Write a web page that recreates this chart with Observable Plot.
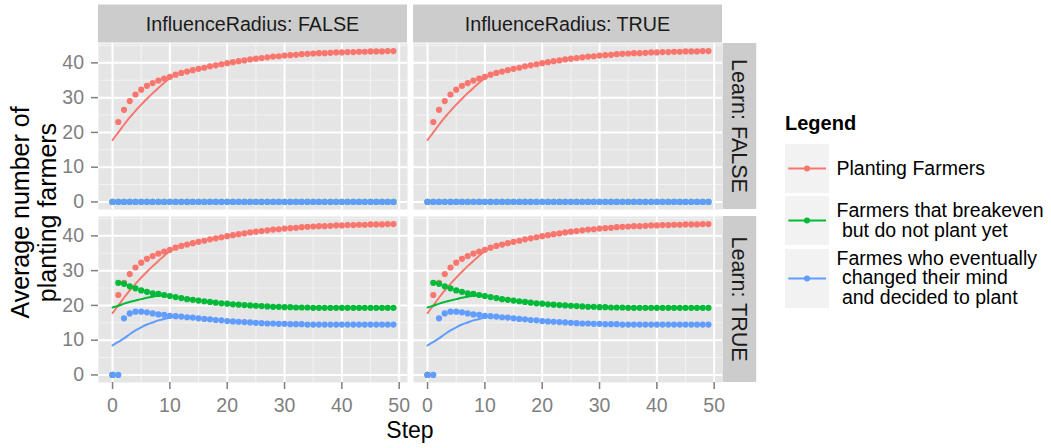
<!DOCTYPE html>
<html><head><meta charset="utf-8">
<script src="https://cdn.jsdelivr.net/npm/d3@7"></script>
<script src="https://cdn.jsdelivr.net/npm/@observablehq/plot@0.6"></script>
<style>
html,body{margin:0;padding:0;background:#fff;}
#wrap{position:relative;width:1051px;height:448px;overflow:hidden;font-family:"Liberation Sans",Arial,sans-serif;}
#chart{position:absolute;left:0;top:0;}
#legend{position:absolute;left:785px;top:111px;}
.ltitle{font-weight:bold;font-size:20px;line-height:24px;color:#000;margin-bottom:9px;}
.lrow{display:flex;align-items:center;margin-bottom:3.3px;}
.lkey{width:44px;background:#F2F2F2;flex:none;display:block;}
.llab{margin-left:7.5px;font-size:19.5px;line-height:19.6px;white-space:pre;color:#000;}
</style></head><body>
<div id="wrap"><div id="chart"></div><div id="legend"></div></div>
<script>
// ---------- data ----------
const steps = [0,1,2,3,4,5,6,7,8,9,10,11,12,13,14,15,16,17,18,19,20,21,22,23,24,25,26,27,28,29,30,31,32,33,34,35,36,37,38,39,40,41,42,43,44,45,46,47,48,49];
const radiusLevels = ["FALSE", "TRUE"];
const learnLevels = ["FALSE", "TRUE"];
const facetVarX = "InfluenceRadius";
const facetVarY = "Learn";
const seriesKeys = ["planting", "breakeven", "changed"];
const seriesLabels = ["Planting Farmers", "Farmers that breakeven\n but do not plant yet", "Farmes who eventually\n changed their mind\n and decided to plant"];
const seriesColors = ["#F8766D", "#00BA38", "#619CFF"];
const xTicks = [0, 10, 20, 30, 40, 50];
const xMinorTicks = [5, 15, 25, 35, 45];
const yTicks = [0, 10, 20, 30, 40];
const yMinorTicks = [5, 15, 25, 35, 45];
const xDomain = [-2.45, 51.45];
const yDomain = [-2.17, 45.57];
const xTitle = "Step";
const yTitleLines = ["Average number of", "planting farmers"];
const legendTitle = "Legend";

// points (steps 0..49)
const plantingPts = [0, 23.0, 26.5, 29.0, 30.9, 32.3, 33.4, 34.2, 34.9, 35.5, 36.0,
  36.6, 37.1, 37.5, 37.9, 38.3, 38.6, 39.0, 39.3, 39.6, 39.9,
  40.2, 40.5, 40.7, 41.0, 41.2, 41.4, 41.6, 41.8, 41.9, 42.1,
  42.2, 42.3, 42.5, 42.6, 42.7, 42.8, 42.8, 42.9, 43.0, 43.0,
  43.1, 43.1, 43.2, 43.2, 43.3, 43.3, 43.3, 43.4, 43.4];
const breakevenPtsLearn = [0, 26.5, 26.2, 25.5, 24.9, 24.3, 23.9, 23.5, 23.3, 23.0, 22.7,
  22.4, 22.1, 21.8, 21.6, 21.4, 21.2, 21.0, 20.8, 20.6, 20.5,
  20.3, 20.2, 20.1, 20.0, 19.9, 19.8, 19.7, 19.6, 19.6, 19.5,
  19.5, 19.4, 19.4, 19.4, 19.3, 19.3, 19.3, 19.3, 19.3, 19.3,
  19.3, 19.3, 19.3, 19.3, 19.3, 19.3, 19.3, 19.3, 19.3];
const changedPtsLearn = [0, 0, 16.3, 17.7, 18.2, 18.2, 18.0, 17.7, 17.4, 17.3, 17.0,
  16.9, 16.8, 16.6, 16.5, 16.3, 16.1, 16.0, 15.8, 15.7, 15.5,
  15.4, 15.3, 15.2, 15.1, 15.0, 14.9, 14.8, 14.8, 14.7, 14.7,
  14.6, 14.6, 14.6, 14.5, 14.5, 14.5, 14.5, 14.5, 14.5, 14.5,
  14.5, 14.5, 14.5, 14.5, 14.5, 14.5, 14.5, 14.5, 14.5];
const zeroPts = [0,0,0,0,0,0,0,0,0,0,0,0,0,0,0,0,0,0,0,0,0,0,0,0,0,0,0,0,0,0,0,0,0,0,0,0,0,0,0,0,0,0,0,0,0,0,0,0,0,0];

// smooth lines (from step 0)
const plantingLine = [17.8, 20.0, 22.2, 24.3, 26.2, 28.0, 29.7, 31.3, 32.8, 34.3, 35.6, 36.6];
const breakevenLine = [19.4, 19.9, 20.5, 21.0, 21.4, 21.8, 22.2, 22.5, 22.8, 22.9, 22.7];
const changedLine = [8.5, 9.5, 10.5, 11.7, 12.8, 13.7, 14.5, 15.1, 15.7, 16.1, 16.5, 16.8, 16.8];

// ---------- build tables ----------
const points = [];
const lines = [];
for (const r of radiusLevels) {
  for (const l of learnLevels) {
    const ptSets = l === "TRUE" ? [plantingPts, breakevenPtsLearn, changedPtsLearn] : [plantingPts, zeroPts, zeroPts];
    ptSets.forEach((vals, si) => vals.forEach((v, i) => points.push({radius: r, learn: l, series: seriesKeys[si], step: steps[i], value: v})));
    const lnSets = l === "TRUE" ? [plantingLine, breakevenLine, changedLine] : [plantingLine, null, null];
    lnSets.forEach((vals, si) => { if (vals) vals.forEach((v, i) => lines.push({radius: r, learn: l, series: seriesKeys[si], step: steps[i], value: v})); });
  }
}

// ---------- styles ----------
const FONT = "'Liberation Sans', Arial, sans-serif";
const PANEL = "#E5E5E5", STRIP = "#CCCCCC", MINOR = "#F2F2F2", AXIS = "#7F7F7F", STRIP_TEXT = "#1A1A1A";
const STRIP_H = 38, STRIP_W = 33.5;
const W = 770, H = 448, ML = 98, MR = 48, MT = 43, MB = 66;

const chart = Plot.plot({
  width: W,
  height: H,
  marginLeft: ML,
  marginRight: MR,
  marginTop: MT,
  marginBottom: MB,
  style: {fontFamily: FONT, background: "white", overflow: "visible"},
  fx: {domain: radiusLevels, paddingInner: 0.0206, paddingOuter: 0, axis: null},
  fy: {domain: learnLevels, paddingInner: 0.0433, paddingOuter: 0, axis: null},
  x: {domain: xDomain},
  y: {domain: yDomain},
  color: {domain: seriesKeys, range: seriesColors},
  marks: [
    Plot.frame({fill: PANEL, stroke: null}),
    Plot.ruleX(xMinorTicks, {stroke: MINOR, strokeWidth: 1.1}),
    Plot.ruleY(yMinorTicks, {stroke: MINOR, strokeWidth: 1.1}),
    Plot.ruleX(xTicks, {stroke: "white", strokeWidth: 2}),
    Plot.ruleY(yTicks, {stroke: "white", strokeWidth: 2}),
    Plot.line(lines, {x: "step", y: "value", z: "series", stroke: "series", fx: "radius", fy: "learn", strokeWidth: 2, curve: "monotone-x"}),
    Plot.dot(points, {x: "step", y: "value", fill: "series", fx: "radius", fy: "learn", r: 3.1, stroke: null}),
    Plot.axisX({ticks: xTicks, tickSize: 7, tickPadding: 9, fontSize: 19.5, color: AXIS, strokeWidth: 1.5, label: null}),
    Plot.axisY({ticks: yTicks, tickSize: 7, tickPadding: 7.5, fontSize: 19.5, color: AXIS, strokeWidth: 1.5, label: null})
  ]
});
document.getElementById("chart").appendChild(chart);

// ---------- facet strips and axis titles, positioned with the plot's facet scales ----------
(function decorate() {
  const fxS = chart.scale("fx"), fyS = chart.scale("fy");
  const bx = fxS.bandwidth, by = fyS.bandwidth;
  const g = d3.select(chart).append("g").attr("font-family", FONT);
  const rightEdge = fxS.apply(radiusLevels[radiusLevels.length - 1]) + bx;
  const top = fyS.apply(learnLevels[0]);
  for (const k of radiusLevels) {
    const x0 = fxS.apply(k);
    g.append("rect").attr("x", x0).attr("y", top - STRIP_H - 0.5).attr("width", bx).attr("height", STRIP_H).attr("fill", STRIP);
    g.append("text").attr("x", x0 + bx / 2).attr("y", top - STRIP_H / 2 - 0.5).attr("dy", "0.36em")
      .attr("text-anchor", "middle").attr("font-size", 19.7).attr("fill", STRIP_TEXT).text(`${facetVarX}: ${k}`);
  }
  for (const k of learnLevels) {
    const y0 = fyS.apply(k);
    g.append("rect").attr("x", rightEdge + 0.7).attr("y", y0).attr("width", STRIP_W).attr("height", by).attr("fill", STRIP);
    g.append("text").attr("transform", `translate(${rightEdge + 0.7 + STRIP_W / 2},${y0 + by / 2}) rotate(90)`).attr("dy", "0.36em")
      .attr("text-anchor", "middle").attr("font-size", 21.5).attr("fill", STRIP_TEXT).text(`${facetVarY}: ${k}`);
  }
  const left = fxS.apply(radiusLevels[0]);
  const cx = (left + rightEdge) / 2;
  const bottom = fyS.apply(learnLevels[learnLevels.length - 1]) + by;
  g.append("text").attr("x", cx).attr("y", H - 10).attr("text-anchor", "middle").attr("font-size", 23).attr("fill", "#000").text(xTitle);
  const cy = (top + bottom) / 2;
  yTitleLines.forEach((t, i) => {
    g.append("text").attr("transform", `translate(${29 + i * 27},${cy}) rotate(-90)`).attr("text-anchor", "middle")
      .attr("font-size", 25).attr("fill", "#000").text(t);
  });
})();

// ---------- legend ----------
const legend = d3.select("#legend");
legend.append("div").attr("class", "ltitle").text(legendTitle);
seriesKeys.forEach((k, i) => {
  const nLines = seriesLabels[i].split("\n").length;
  const h = Math.max(49, nLines * 19.6 + 0.2);
  const row = legend.append("div").attr("class", "lrow");
  const svg = row.append("svg").attr("class", "lkey").attr("width", 44).attr("height", h);
  svg.append("line").attr("x1", 3.3).attr("x2", 41).attr("y1", h / 2).attr("y2", h / 2).attr("stroke", seriesColors[i]).attr("stroke-width", 2);
  svg.append("circle").attr("cx", 22).attr("cy", h / 2).attr("r", 3).attr("fill", seriesColors[i]);
  row.append("div").attr("class", "llab").text(seriesLabels[i]);
});
</script>
</body></html>
